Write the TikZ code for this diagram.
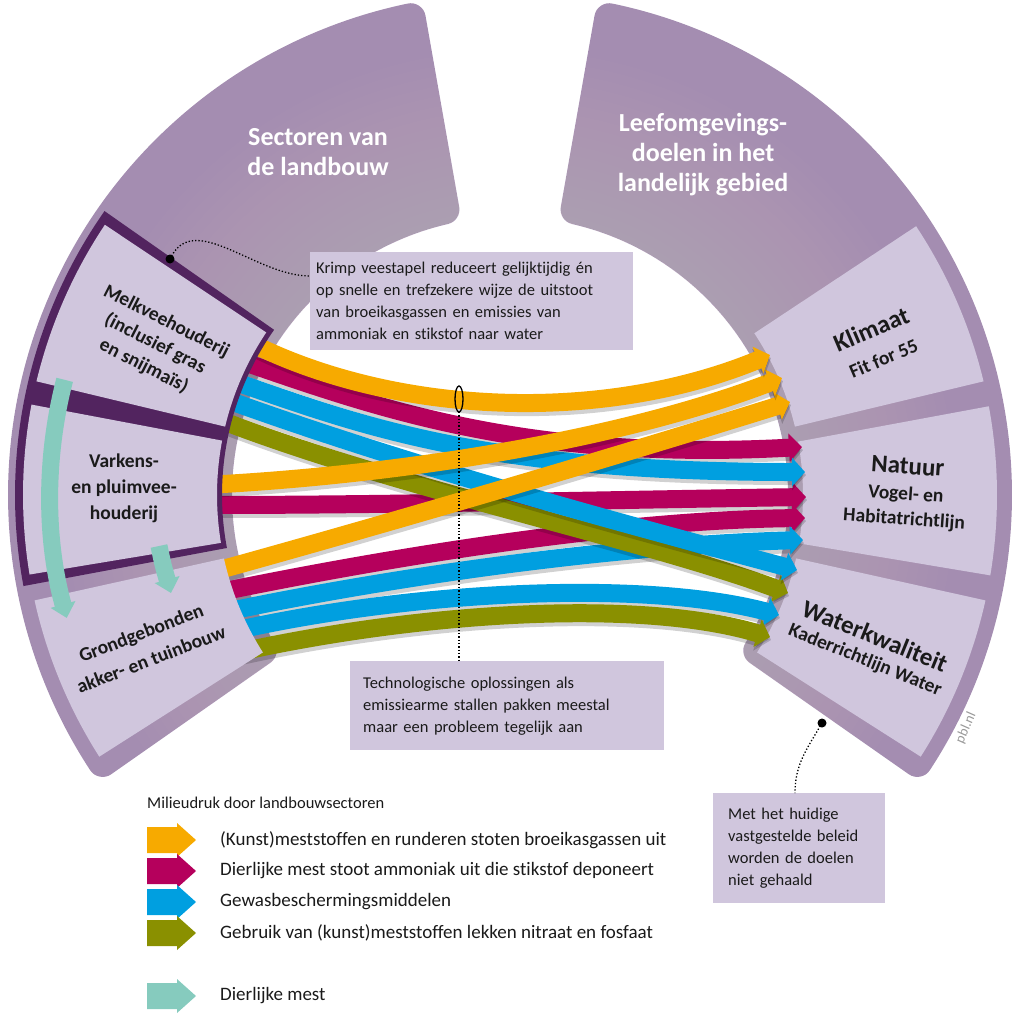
\documentclass[tikz,border=0pt]{standalone}
\usepackage{fontspec}
\setmainfont[Ligatures=NoCommon]{Carlito}
\usetikzlibrary{calc,arrows.meta}
\definecolor{bandc}{HTML}{A48DB1}
\definecolor{lav}{HTML}{D0C6DD}
\definecolor{darkp}{HTML}{52245F}
\definecolor{cor}{HTML}{F7AA00}
\definecolor{cmag}{HTML}{B5005C}
\definecolor{cblu}{HTML}{009FE0}
\definecolor{coli}{HTML}{8A9000}
\definecolor{cteal}{HTML}{86CBBE}
\definecolor{ink}{HTML}{1A1A1A}
\newcommand\annsec[5][]{\path[#1] ($(C)+(#2:#4)$) arc[start angle=#2,end angle=#3,radius=#4] -- ($(C)+(#3:#5)$) arc[start angle=#3,end angle=#2,radius=#5] -- cycle;}
\newcommand\flow[2]{\draw[flowshadow] #2; \draw[flowline,draw=#1] #2;}
\newcommand\legarrow[3]{\fill[#1] (147,{-#2+13}) -- (177,{-#2+13}) -- (177,{-#2+17}) -- (196,-#2) -- (177,{-#2-17}) -- (177,{-#2-13}) -- (147,{-#2-13}) -- cycle;
  \node[legtxt] (#3) at (220,-#2) }
\begin{document}
\begin{tikzpicture}[x=1pt,y=1pt,
  lbl/.style={align=center, text=ink, font=\bfseries\fontsize{19.5}{25}\selectfont, inner sep=0},
  ttl/.style={align=center, text=white, font=\bfseries\fontsize{26}{30}\selectfont, inner sep=0},
  anno/.style={fill=lav, text=ink, align=left, font=\fontsize{16.5}{22}\selectfont, inner ysep=0, anchor=north west},
  legtxt/.style={anchor=west, text=ink, font=\fontsize{19}{22}\selectfont, inner sep=0},
  legtitle/.style={anchor=west, text=ink, font=\fontsize{16.5}{20}\selectfont, inner sep=0},
  flowline/.style={line width=18, -{Triangle[width=28pt,length=13pt]}},
  flowshadow/.style={line width=20, draw=black, opacity=0.18, transform canvas={shift={(1,-3)}}, -{Triangle[width=30pt,length=14pt]}},
  conn/.style={dotted, line width=1.3, draw=black},
  tealarrow/.style={line width=17, draw=cteal, -{Triangle[width=25pt,length=14pt]}},
]
\useasboundingbox (0,-1013) rectangle (1014,0);
\coordinate (C) at (510,-495);

% outer bands with rounded corners
\path[fill=bandc,draw=bandc,line width=30,line join=round] ($(C)+(101.765:487)$) arc[start angle=101.765,end angle=213.235,radius=487] -- ($(C)+(212.066:293)$) arc[start angle=212.066,end angle=102.934,radius=293] -- cycle;
\path[fill=bandc,draw=bandc,line width=30,line join=round] ($(C)+(-33.235:487)$) arc[start angle=-33.235,end angle=78.235,radius=487] -- ($(C)+(77.066:293)$) arc[start angle=77.066,end angle=-32.066,radius=293] -- cycle;
% soft lightening toward the inner edge
\foreach \r in {285,295,...,445} {\fill[white,opacity=0.012] (C) circle (\r);}

% right boxes
\annsec[fill=lav]{13.5}{33.5}{487}{293}
\annsec[fill=lav]{-9.5}{10.5}{487}{293}
\annsec[fill=lav]{-32.5}{-12.5}{487}{293}

% flow coordinates (start, end)
\coordinate (om-s) at (245,-340);  \coordinate (om-e) at (770,-355);
\coordinate (mm-s) at (238,-360);  \coordinate (mm-e) at (802,-447);
\coordinate (bm1-s) at (230,-380); \coordinate (bm1-e) at (805,-472);
\coordinate (bm2-s) at (222,-398); \coordinate (bm2-e) at (797,-570);
\coordinate (olm-s) at (215,-418); \coordinate (olm-e) at (788,-593);
\coordinate (ov-s) at (205,-485);  \coordinate (ov-e) at (782,-378);
\coordinate (mv-s) at (205,-505);  \coordinate (mv-e) at (806,-497);
\coordinate (og-s) at (212,-572);  \coordinate (og-e) at (790,-402);
\coordinate (mg-s) at (215,-593);  \coordinate (mg-e) at (805,-518);
\coordinate (bg1-s) at (220,-613); \coordinate (bg1-e) at (803,-540);
\coordinate (bg2-s) at (225,-633); \coordinate (bg2-e) at (779,-615);
\coordinate (olg-s) at (235,-653); \coordinate (olg-e) at (770,-637);

\flow{cmag}{(mv-s) .. controls (400,-505) and (600,-500) .. (mv-e)}
\flow{cmag}{(mg-s) .. controls (400,-555) and (620,-520) .. (mg-e)}
\flow{cblu}{(bg1-s) .. controls (400,-575) and (620,-545) .. (bg1-e)}
\flow{cmag}{(mm-s) .. controls (370,-405) and (520,-462) .. (mm-e)}
\flow{cblu}{(bm1-s) .. controls (360,-425) and (480,-472) .. (bm1-e)}
\flow{coli}{(olm-s) .. controls (400,-490) and (640,-538) .. (olm-e)}
\flow{cblu}{(bm2-s) .. controls (420,-470) and (640,-528) .. (bm2-e)}
\flow{cblu}{(bg2-s) .. controls (400,-592) and (640,-578) .. (bg2-e)}
\flow{coli}{(olg-s) .. controls (420,-612) and (640,-598) .. (olg-e)}
\flow{cor}{(og-s) .. controls (400,-520) and (620,-455) .. (og-e)}
\flow{cor}{(ov-s) .. controls (400,-475) and (620,-440) .. (ov-e)}
\flow{cor}{(om-s) .. controls (390,-415) and (600,-425) .. (om-e)}

% left boxes
\annsec[fill=darkp]{145}{190.6}{495}{288}
\annsec[fill=lav]{146.3}{166.5}{487}{293}
\annsec[fill=lav]{169.3}{189.4}{487}{293}
\annsec[fill=lav]{192.5}{212.5}{487}{293}

% teal arrows (dierlijke mest)
\draw[tealarrow] ($(C)+(165.5:460)$) arc[start angle=165.5,end angle=195.5,radius=460];
\coordinate (t2-s) at (159,-546); \coordinate (t2-e) at (171,-593);
\draw[tealarrow] (t2-s) .. controls (163,-565) .. (t2-e);

% titles
\node[ttl] (ttl1) at (318,-152) {Sectoren van\\de landbouw};
\node[ttl] (ttl2) at (703,-155) {Leefomgevings-\\doelen in het\\landelijk gebied};

% box labels
\node[lbl, rotate=-27] (melk) at (155,-344) {Melkveehouderij\\(inclusief gras\\en snijmaïs)};
\node[lbl, font=\bfseries\fontsize{19.5}{26}\selectfont] (vark) at (124,-488) {Varkens-\\en pluimvee-\\houderij};
\node[lbl, rotate=21, font=\bfseries\fontsize{19.5}{28}\selectfont] (grond) at (146,-646) {Grondgebonden\\akker- en tuinbouw};
\node[lbl, rotate=23] (klim) at (877,-343) {{\fontsize{25}{26}\selectfont Klimaat}\\[5pt]{\fontsize{19.5}{22}\selectfont Fit for 55}};
\node[lbl, rotate=-4] (nat) at (906,-493) {{\fontsize{25}{26}\selectfont Natuur}\\[1pt]{\fontsize{19.5}{26}\selectfont Vogel- en}\\{\fontsize{19.5}{26}\selectfont Habitatrichtlijn}};
\node[lbl, rotate=-22] (wat) at (870,-648) {{\fontsize{25}{26}\selectfont Waterkwaliteit}\\[-2pt]{\fontsize{19.5}{22}\selectfont Kaderrichtlijn Water}};
\node[rotate=66, text=black!40, font=\fontsize{14}{15}\selectfont, inner sep=0] (pbl) at (966,-728) {pbl.nl};

% annotation boxes
\node[anno, minimum width=323, minimum height=98, text width=311, inner xsep=6] (krimp) at (310,-252) {Krimp veestapel reduceert gelijktijdig én\\op snelle en trefzekere wijze de uitstoot\\van broeikasgassen en emissies van\\ammoniak en stikstof naar water};
\node[anno, minimum width=314, minimum height=89, text width=288, inner xsep=13] (tech) at (350,-661) {Technologische oplossingen als\\emissiearme stallen pakken meestal\\maar een probleem tegelijk aan};
\node[anno, minimum width=172, minimum height=110, text width=142, inner xsep=15] (beleid) at (713,-793) {Met het huidige\\vastgestelde beleid\\worden de doelen\\niet gehaald};

% connectors
\coordinate (dot1) at (170,-259);
\fill (dot1) circle (4.5);
\draw[conn] (dot1) to[out=65,in=180] ($(krimp.north west)+(0,-24)$);
\coordinate (ell) at (459,-399);
\draw[line width=1.3] (ell) ellipse [x radius=4, y radius=13];
\draw[conn] ($(ell)+(0,-13)$) -- (ell |- tech.north);
\coordinate (dot3) at (822,-723);
\fill (dot3) circle (4.5);
\draw[conn] (dot3) to[out=240,in=90] ($(beleid.north west)+(82,0)$);

% legend
\node[legtitle] (legt) at (147,-803) {Milieudruk door landbouwsectoren};
\legarrow{cor}{840}{l1}{(Kunst)meststoffen en runderen stoten broeikasgassen uit};
\legarrow{cmag}{871}{l2}{Dierlijke mest stoot ammoniak uit die stikstof deponeert};
\legarrow{cblu}{902}{l3}{Gewasbeschermingsmiddelen};
\legarrow{coli}{933}{l4}{Gebruik van (kunst)meststoffen lekken nitraat en fosfaat};
\legarrow{cteal}{996}{l5}{Dierlijke mest};
\end{tikzpicture}
\end{document}
